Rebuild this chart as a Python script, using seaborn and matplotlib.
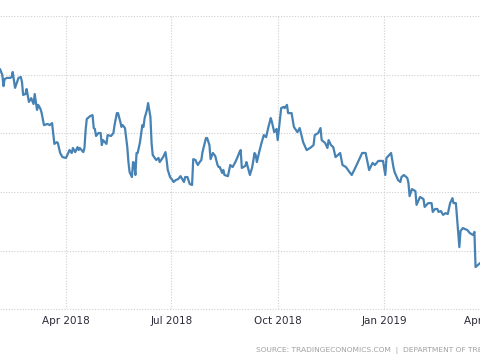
import matplotlib
matplotlib.use("Agg")
import matplotlib.pyplot as plt
import matplotlib.dates as mdates
import pandas as pd
import seaborn as sns

dates = [
    "2018-02-03", "2018-02-05", "2018-02-06", "2018-02-07", "2018-02-09", "2018-02-12",
    "2018-02-13", "2018-02-14", "2018-02-16", "2018-02-18", "2018-02-19", "2018-02-21",
    "2018-02-22", "2018-02-23", "2018-02-25", "2018-02-26", "2018-02-28", "2018-03-02",
    "2018-03-04", "2018-03-05", "2018-03-07", "2018-03-08", "2018-03-10", "2018-03-11",
    "2018-03-13", "2018-03-16", "2018-03-18", "2018-03-20", "2018-03-22", "2018-03-24",
    "2018-03-25", "2018-03-27", "2018-03-29", "2018-04-01", "2018-04-03", "2018-04-04",
    "2018-04-06", "2018-04-07", "2018-04-09", "2018-04-11", "2018-04-12", "2018-04-13",
    "2018-04-16", "2018-04-17", "2018-04-18", "2018-04-19", "2018-04-22", "2018-04-24",
    "2018-04-25", "2018-04-26", "2018-04-27", "2018-04-29", "2018-05-01", "2018-05-02",
    "2018-05-03", "2018-05-06", "2018-05-07", "2018-05-10", "2018-05-12", "2018-05-13",
    "2018-05-15", "2018-05-16", "2018-05-18", "2018-05-19", "2018-05-20", "2018-05-22",
    "2018-05-24", "2018-05-25", "2018-05-26", "2018-05-28", "2018-05-29", "2018-05-30",
    "2018-05-31", "2018-06-01", "2018-06-02", "2018-06-04", "2018-06-06", "2018-06-07",
    "2018-06-08", "2018-06-10", "2018-06-11", "2018-06-13", "2018-06-14", "2018-06-15",
    "2018-06-18", "2018-06-20", "2018-06-21", "2018-06-24", "2018-06-26", "2018-06-27",
    "2018-06-28", "2018-06-30", "2018-07-02", "2018-07-03", "2018-07-05", "2018-07-07",
    "2018-07-09", "2018-07-11", "2018-07-12", "2018-07-13", "2018-07-15", "2018-07-17",
    "2018-07-19", "2018-07-20", "2018-07-22", "2018-07-23", "2018-07-24", "2018-07-25",
    "2018-07-27", "2018-07-28", "2018-07-31", "2018-08-01", "2018-08-03", "2018-08-04",
    "2018-08-05", "2018-08-06", "2018-08-08", "2018-08-10", "2018-08-11", "2018-08-12",
    "2018-08-14", "2018-08-15", "2018-08-16", "2018-08-19", "2018-08-21", "2018-08-23",
    "2018-08-25", "2018-08-27", "2018-08-29", "2018-08-30", "2018-08-31", "2018-09-03",
    "2018-09-04", "2018-09-07", "2018-09-09", "2018-09-11", "2018-09-12", "2018-09-13",
    "2018-09-15", "2018-09-17", "2018-09-19", "2018-09-21", "2018-09-23", "2018-09-25",
    "2018-09-26", "2018-09-28", "2018-09-30", "2018-10-01", "2018-10-04", "2018-10-06",
    "2018-10-07", "2018-10-09", "2018-10-10", "2018-10-13", "2018-10-15", "2018-10-18",
    "2018-10-20", "2018-10-23", "2018-10-26", "2018-10-29", "2018-11-01", "2018-11-02",
    "2018-11-05", "2018-11-07", "2018-11-08", "2018-11-11", "2018-11-13", "2018-11-14",
    "2018-11-16", "2018-11-18", "2018-11-20", "2018-11-24", "2018-11-26", "2018-11-29",
    "2018-12-02", "2018-12-04", "2018-12-07", "2018-12-09", "2018-12-13", "2018-12-16",
    "2018-12-19", "2018-12-22", "2018-12-24", "2018-12-27", "2018-12-31", "2019-01-02",
    "2019-01-03", "2019-01-07", "2019-01-09", "2019-01-10", "2019-01-13", "2019-01-15",
    "2019-01-16", "2019-01-18", "2019-01-21", "2019-01-22", "2019-01-23", "2019-01-25",
    "2019-01-28", "2019-01-29", "2019-02-01", "2019-02-04", "2019-02-05", "2019-02-08",
    "2019-02-11", "2019-02-12", "2019-02-14", "2019-02-16", "2019-02-17", "2019-02-19",
    "2019-02-21", "2019-02-23", "2019-02-25", "2019-02-27", "2019-03-01", "2019-03-02",
    "2019-03-04", "2019-03-06", "2019-03-07", "2019-03-08", "2019-03-10", "2019-03-14",
    "2019-03-16", "2019-03-19", "2019-03-20", "2019-03-21", "2019-03-23", "2019-03-25",
]

values = [
    2.819, 2.799, 2.761, 2.785, 2.789, 2.789,
    2.792, 2.809, 2.755, 2.778, 2.789, 2.792,
    2.775, 2.731, 2.734, 2.751, 2.707, 2.720,
    2.700, 2.734, 2.680, 2.697, 2.683, 2.669,
    2.628, 2.632, 2.628, 2.635, 2.564, 2.570,
    2.567, 2.533, 2.519, 2.516, 2.533, 2.543,
    2.533, 2.550, 2.536, 2.553, 2.543, 2.550,
    2.536, 2.550, 2.611, 2.649, 2.659, 2.662,
    2.618, 2.615, 2.591, 2.601, 2.601, 2.560,
    2.577, 2.564, 2.594, 2.591, 2.601, 2.628,
    2.669, 2.669, 2.639, 2.622, 2.628, 2.618,
    2.553, 2.502, 2.468, 2.451, 2.502, 2.499,
    2.458, 2.533, 2.533, 2.570, 2.628, 2.622,
    2.652, 2.680, 2.703, 2.656, 2.567, 2.526,
    2.509, 2.516, 2.502, 2.519, 2.536, 2.509,
    2.475, 2.451, 2.441, 2.434, 2.441, 2.444,
    2.454, 2.441, 2.434, 2.451, 2.451, 2.427,
    2.424, 2.512, 2.509, 2.499, 2.492, 2.499,
    2.509, 2.536, 2.584, 2.584, 2.560, 2.512,
    2.523, 2.533, 2.523, 2.492, 2.485, 2.485,
    2.465, 2.475, 2.458, 2.454, 2.492, 2.485,
    2.499, 2.516, 2.536, 2.543, 2.482, 2.489,
    2.502, 2.458, 2.485, 2.533, 2.526, 2.502,
    2.536, 2.567, 2.594, 2.587, 2.622, 2.652,
    2.639, 2.604, 2.615, 2.577, 2.686, 2.690,
    2.686, 2.697, 2.669, 2.669, 2.622, 2.604,
    2.618, 2.570, 2.543, 2.550, 2.560, 2.594,
    2.601, 2.618, 2.577, 2.567, 2.550, 2.577,
    2.560, 2.553, 2.519, 2.533, 2.492, 2.485,
    2.468, 2.458, 2.482, 2.499, 2.533, 2.533,
    2.475, 2.499, 2.492, 2.506, 2.506, 2.458,
    2.516, 2.533, 2.485, 2.468, 2.441, 2.434,
    2.451, 2.458, 2.448, 2.431, 2.386, 2.410,
    2.403, 2.356, 2.383, 2.376, 2.349, 2.362,
    2.362, 2.332, 2.342, 2.342, 2.332, 2.335,
    2.322, 2.328, 2.325, 2.362, 2.379, 2.362,
    2.362, 2.260, 2.212, 2.267, 2.277, 2.270,
    2.260, 2.253, 2.264, 2.144, 2.151, 2.158,
]

y_grid = [2.0, 2.2, 2.4, 2.6, 2.8, 3.0]
source_text = "SOURCE: TRADINGECONOMICS.COM  |  DEPARTMENT OF TREASURY"

df = pd.DataFrame({"date": pd.to_datetime(dates), "value": values})

sns.set_style("white")
fig = plt.figure(figsize=(4.8, 3.6), dpi=100)
# plot area runs past the right edge (the chart is cropped there)
ax = fig.add_axes([0.0, 0.1408, 1.051, 0.8147])

sns.lineplot(data=df, x="date", y="value", ax=ax, color="#4682b4", linewidth=1.6)

ax.set_xlim(pd.Timestamp("2018-02-03"), pd.Timestamp("2019-04-15"))
ax.set_ylim(2.0, 3.0)
ax.set_yticks(y_grid)
ax.set_yticklabels([])
ax.xaxis.set_major_locator(mdates.MonthLocator(bymonth=[1, 4, 7, 10]))
ax.xaxis.set_major_formatter(mdates.DateFormatter("%b %Y"))
ax.grid(True, color="#cfcfcf", linestyle=(0, (1, 1.5)), linewidth=0.8)
for gl in ax.get_ygridlines():
    gl.set_clip_on(False)
ax.tick_params(axis="x", length=3, width=0.8, color="#cfcfcf", pad=2,
               labelsize=7.5, labelcolor="#2b2b3a")
ax.tick_params(axis="y", length=0)
ax.set_xlabel("")
ax.set_ylabel("")
for s in ax.spines.values():
    s.set_visible(False)

fig.text(256 / 480, 1 - 350 / 360, source_text, fontsize=5.4, color="#a0a0a0",
         ha="left", va="center")

fig.savefig("out.png", dpi=100)
